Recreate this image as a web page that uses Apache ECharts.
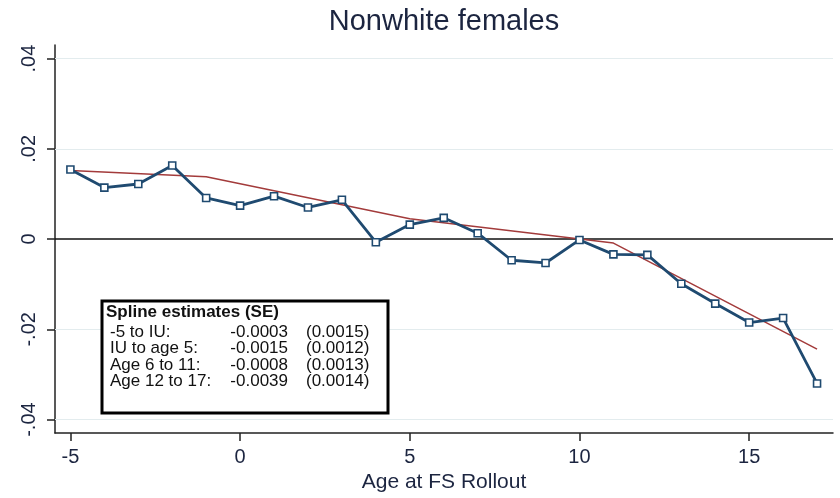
<!DOCTYPE html>
<html>
<head>
<meta charset="utf-8">
<script src="https://cdn.jsdelivr.net/npm/echarts@6/dist/echarts.min.js"></script>
<style>
html,body{margin:0;padding:0;background:#fff;}
#chart{width:840px;height:498px;}
</style>
</head>
<body>
<div id="chart"></div>
<script>
// ---- data ----
const ages = [-5,-4,-3,-2,-1,0,1,2,3,4,5,6,7,8,9,10,11,12,13,14,15,16,17];
const estimates = [0.0154,0.0114,0.0122,0.0163,0.0091,0.0074,0.0095,0.0070,0.0087,-0.0007,0.0032,0.0047,0.0013,-0.0047,-0.0053,-0.0002,-0.0034,-0.0035,-0.0099,-0.0143,-0.0185,-0.0175,-0.0320];
const splineKnots = [-5,-1,5,11,17];
const splineValues = [0.0152,0.0138,0.0045,-0.0009,-0.0244];
const xTicks = [-5,0,5,10,15];
const yTicks = [-0.04,-0.02,0,0.02,0.04];
const yTickLabels = ['-.04','-.02','0','.02','.04'];
const gridValues = [-0.04,-0.02,0.02,0.04];
const boxTitle = 'Spline estimates (SE)';
const boxLabels = ['-5 to IU:','IU to age 5:','Age 6 to 11:','Age 12 to 17:'];
const boxEstimates = ['-0.0003','-0.0015','-0.0008','-0.0039'];
const boxSE = ['(0.0015)','(0.0012)','(0.0013)','(0.0014)'];
const chartTitle = 'Nonwhite females';
const xTitle = 'Age at FS Rollout';

// ---- chart ----
const FONT = "'Liberation Sans', Arial, sans-serif";
const TXT = '#1c2540';
const chart = echarts.init(document.getElementById('chart'), null, {renderer:'canvas'});

const boxChildren = [
  {type:'rect', z:100, shape:{x:102, y:301, width:286, height:112},
   style:{fill:'#fff', stroke:'#000', lineWidth:3}},
  {type:'text', z:101, x:106, y:312, style:{text:boxTitle, font:'bold 17px '+FONT, fill:'#111', textVerticalAlign:'middle'}}
];
const rowY = [332, 348.5, 365, 381.5];
boxLabels.forEach((l,i)=>{
  boxChildren.push({type:'text', z:101, x:110, y:rowY[i], style:{text:l, font:'17px '+FONT, fill:'#111', textVerticalAlign:'middle'}});
  boxChildren.push({type:'text', z:101, x:288, y:rowY[i], style:{text:boxEstimates[i], font:'17px '+FONT, fill:'#111', textAlign:'right', textVerticalAlign:'middle'}});
  boxChildren.push({type:'text', z:101, x:306, y:rowY[i], style:{text:boxSE[i], font:'17px '+FONT, fill:'#111', textVerticalAlign:'middle'}});
});

const option = {
  animation:false,
  backgroundColor:'#fff',
  graphic:[
    {type:'text', x:444, y:22, z:10, style:{text:chartTitle, font:'29px '+FONT, fill:TXT, textAlign:'center', textVerticalAlign:'middle'}},
    {type:'group', z:100, children:boxChildren}
  ],
  grid:{left:55, right:7, top:45, bottom:59, containLabel:false},
  xAxis:{
    type:'value', min:-5.454, max:17.47,
    name:xTitle, nameLocation:'middle', nameGap:38,
    nameTextStyle:{fontFamily:FONT, fontSize:21, color:TXT},
    axisLine:{onZero:false, lineStyle:{color:'#222', width:1.5}},
    axisTick:{show:true, length:8, lineStyle:{color:'#222', width:1.5}, customValues:xTicks},
    axisLabel:{customValues:xTicks, fontFamily:FONT, fontSize:20, color:TXT, margin:14},
    splitLine:{show:false}
  },
  yAxis:{
    type:'value', min:-0.043, max:0.043,
    axisLine:{onZero:false, lineStyle:{color:'#222', width:1.5}},
    axisTick:{show:true, length:8, lineStyle:{color:'#222', width:1.5}, customValues:yTicks},
    axisLabel:{customValues:yTicks, rotate:90, fontFamily:FONT, fontSize:20, color:TXT, margin:16,
      formatter:function(v){const i=yTicks.findIndex(t=>Math.abs(t-v)<1e-9);return i>=0?yTickLabels[i]:'';}},
    splitLine:{show:false}
  },
  series:[
    {
      type:'line', data:splineKnots.map((k,i)=>[k,splineValues[i]]),
      showSymbol:false, symbol:'none', z:3,
      lineStyle:{color:'#a33b3b', width:1.5},
      markLine:{
        silent:true, symbol:'none', label:{show:false}, z:1,
        data:gridValues.map(v=>({yAxis:v, lineStyle:{color:'#e3ecee', width:1, type:'solid'}}))
          .concat([{yAxis:0, lineStyle:{color:'#111', width:1.5, type:'solid'}}])
      }
    },
    {
      type:'line', data:ages.map((a,i)=>[a,estimates[i]]), z:4,
      symbol:'rect', symbolSize:7, showSymbol:true,
      lineStyle:{color:'#1f4a70', width:2.8},
      itemStyle:{color:'#fff', borderColor:'#1f4a70', borderWidth:1.6}
    }
  ]
};
chart.setOption(option);
</script>
</body>
</html>
